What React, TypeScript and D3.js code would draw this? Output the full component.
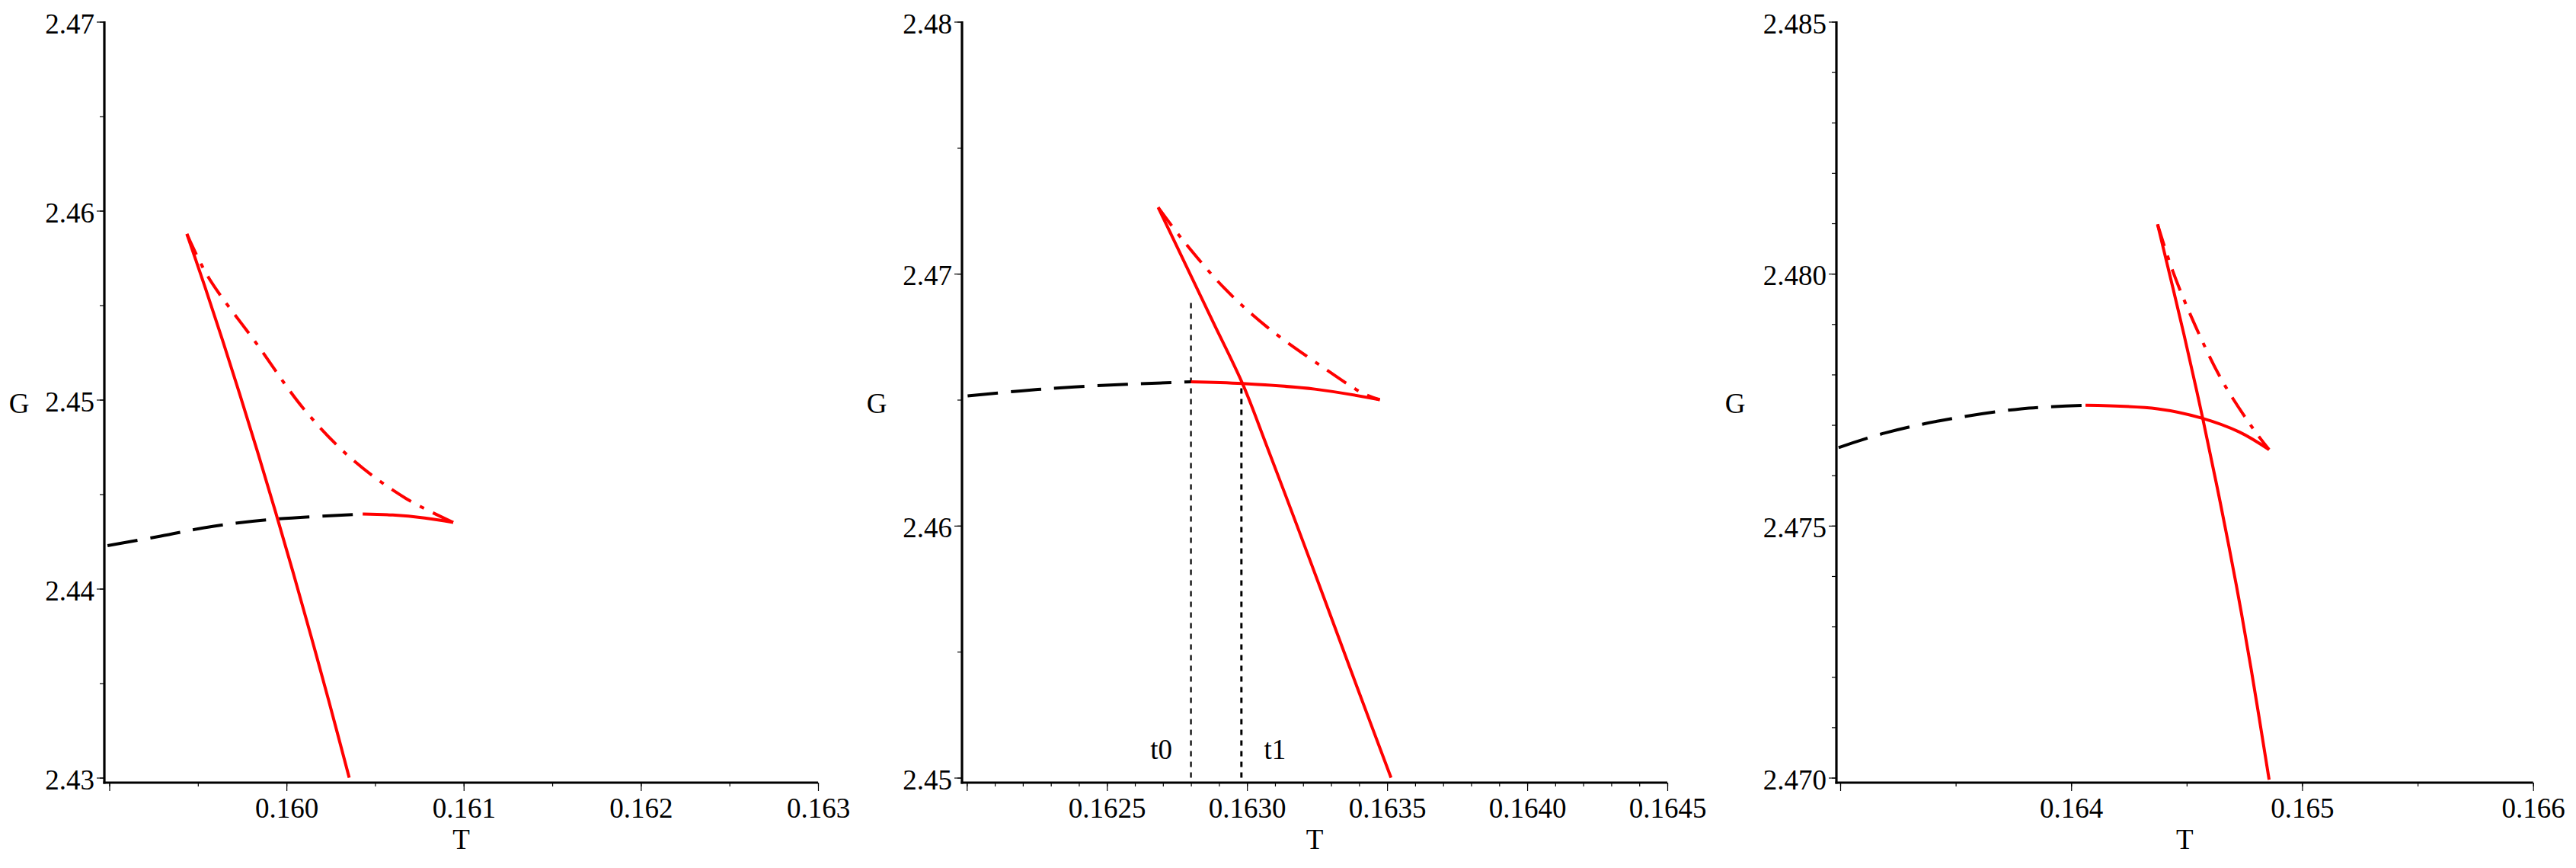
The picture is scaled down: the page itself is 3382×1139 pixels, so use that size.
import React, { useEffect, useRef } from 'react';
import * as d3 from 'd3';

const WIDTH = 3382;
const HEIGHT = 1139;
const FONT = "'Liberation Serif', 'Times New Roman', Times, serif";

// [T, G] pairs
const p1Black = [[0.15899, 2.44228], [0.15929, 2.44278], [0.15959, 2.44331], [0.15995, 2.44369], [0.16043, 2.44395]];
const p1RedFlat = [[0.16043, 2.44395], [0.1606, 2.4439], [0.16078, 2.44374], [0.160941, 2.44351]];
const p1DashDot = [[0.159438, 2.45877], [0.159559, 2.45648], [0.159831, 2.45297], [0.160103, 2.44945], [0.160374, 2.44682], [0.160675, 2.44477], [0.160941, 2.44351]];
const p1Solid = [[0.159438, 2.45877], [0.159538, 2.45602], [0.159638, 2.45318], [0.159738, 2.45024], [0.159838, 2.4472], [0.159938, 2.44407], [0.160038, 2.44084], [0.160138, 2.43751], [0.160238, 2.43409], [0.160354, 2.43]];

const p2Black = [[0.162003, 2.46515], [0.162193, 2.46535], [0.162384, 2.46551], [0.1628, 2.46571]];
const p2RedFlat = [[0.1628, 2.46571], [0.162984, 2.46564], [0.163242, 2.46542], [0.163474, 2.465]];
const p2DashDot = [[0.162683, 2.47263], [0.162765, 2.47142], [0.162918, 2.46944], [0.16307, 2.4679], [0.16326, 2.46637], [0.163413, 2.46526], [0.163474, 2.465]];
const p2Solid = [[0.162683, 2.47263], [0.16278, 2.47038], [0.16288, 2.46806], [0.162984, 2.46564], [0.16307, 2.46318], [0.163184, 2.45984], [0.16328, 2.45698], [0.163394, 2.45356], [0.163514, 2.45]];
const p2Marks = [
  { label: 't0', t: 0.1628, top: 2.469, width: 2.2 },
  { label: 't1', t: 0.16298, top: 2.46564, width: 3 },
];

const p3Black = [[0.162993, 2.47655], [0.163194, 2.47684], [0.163429, 2.47708], [0.163784, 2.47732], [0.164062, 2.47739]];
const p3RedFlat = [[0.164062, 2.47739], [0.164374, 2.47732], [0.164562, 2.47714], [0.164728, 2.47686], [0.164857, 2.47651]];
const p3DashDot = [[0.164374, 2.48098], [0.16444, 2.48005], [0.164539, 2.47895], [0.164657, 2.47785], [0.164798, 2.47686], [0.164857, 2.47651]];
const p3Solid = [[0.164374, 2.48098], [0.164489, 2.47878], [0.16457, 2.47712], [0.164645, 2.47547], [0.164715, 2.47382], [0.164779, 2.47216], [0.164857, 2.46996]];

// tick values
const p1XTicks = [0.159, 0.160, 0.161, 0.162, 0.163];
const p1YTicks = [2.43, 2.44, 2.45, 2.46, 2.47];
const p2XTicks = [0.162, 0.1625, 0.163, 0.1635, 0.164, 0.1645];
const p2YTicks = [2.45, 2.46, 2.47, 2.48];
const p3XTicks = [0.163, 0.164, 0.165, 0.166];
const p3YTicks = [2.470, 2.475, 2.480, 2.485];

const panels = [
  {
    axisX: 137, xStart: 143.5, xEnd: 1074, gX: 25,
    xDomain: [0.159, 0.163], yDomain: [2.43, 2.47],
    xTicks: p1XTicks, yTicks: p1YTicks, xMinorStep: 0.0005, yMinorStep: 0.005,
    xFmt: '.3f', yFmt: '.2f',
    black: p1Black, redFlat: p1RedFlat, dashDot: p1DashDot, solid: p1Solid, marks: [],
  },
  {
    axisX: 1263, xStart: 1269.3, xEnd: 2189, gX: 1151,
    xDomain: [0.162, 0.1645], yDomain: [2.45, 2.48],
    xTicks: p2XTicks, yTicks: p2YTicks, xMinorStep: 0.0001, yMinorStep: 0.005,
    xFmt: '.4f', yFmt: '.2f',
    black: p2Black, redFlat: p2RedFlat, dashDot: p2DashDot, solid: p2Solid, marks: p2Marks,
  },
  {
    axisX: 2411, xStart: 2416, xEnd: 3325.7, gX: 2278,
    xDomain: [0.163, 0.166], yDomain: [2.470, 2.485],
    xTicks: p3XTicks, yTicks: p3YTicks, xMinorStep: 0.0005, yMinorStep: 0.001,
    xFmt: '.3f', yFmt: '.3f',
    black: p3Black, redFlat: p3RedFlat, dashDot: p3DashDot, solid: p3Solid, marks: [],
  },
];

const Y_TOP = 28.5;
const Y_BOTTOM = 1020.5;
const X_AXIS_Y = 1027;

export default function App() {
  const ref = useRef(null);

  useEffect(() => {
    const svg = d3.select(ref.current);
    svg.selectAll('*').remove();

    const styleText = sel => sel
      .style('font-family', FONT)
      .style('font-size', '37px')
      .attr('fill', '#000');

    panels.forEach(p => {
      const x = d3.scaleLinear().domain(p.xDomain).range([p.xStart, p.xEnd]);
      const y = d3.scaleLinear().domain(p.yDomain).range([Y_BOTTOM, Y_TOP]);
      const g = svg.append('g');

      const minor = (dom, step) => d3.range(dom[0], dom[1] + step / 2, step);

      // minor ticks
      g.append('g')
        .attr('transform', `translate(0, ${X_AXIS_Y})`)
        .call(d3.axisBottom(x).tickValues(minor(p.xDomain, p.xMinorStep)).tickSize(5).tickSizeOuter(0).tickFormat(() => ''))
        .call(a => a.select('.domain').remove());
      g.append('g')
        .attr('transform', `translate(${p.axisX}, 0)`)
        .call(d3.axisLeft(y).tickValues(minor(p.yDomain, p.yMinorStep)).tickSize(6).tickSizeOuter(0).tickFormat(() => ''))
        .call(a => a.select('.domain').remove());

      // major ticks
      const firstX = p.xTicks[0];
      g.append('g')
        .attr('transform', `translate(0, ${X_AXIS_Y})`)
        .call(d3.axisBottom(x).tickValues(p.xTicks).tickSize(11).tickSizeOuter(0).tickPadding(9)
          .tickFormat(v => (v === firstX ? '' : d3.format(p.xFmt)(v))))
        .call(a => a.select('.domain').remove())
        .call(a => styleText(a.selectAll('text')));
      g.append('g')
        .attr('transform', `translate(${p.axisX}, 0)`)
        .call(d3.axisLeft(y).tickValues(p.yTicks).tickSize(10).tickSizeOuter(0).tickPadding(3)
          .tickFormat(d3.format(p.yFmt)))
        .call(a => a.select('.domain').remove())
        .call(a => styleText(a.selectAll('text')).attr('dy', '0.4em'));

      g.selectAll('.tick line').attr('stroke', '#000').attr('stroke-width', 1.2);

      // axis lines
      g.append('line')
        .attr('x1', p.axisX - 1.5).attr('x2', p.xEnd)
        .attr('y1', X_AXIS_Y).attr('y2', X_AXIS_Y)
        .attr('stroke', '#000').attr('stroke-width', 3.2);
      g.append('line')
        .attr('x1', p.axisX).attr('x2', p.axisX)
        .attr('y1', Y_TOP - 0.5).attr('y2', X_AXIS_Y + 1.5)
        .attr('stroke', '#000').attr('stroke-width', 3.2);

      // axis titles
      styleText(g.append('text'))
        .attr('x', (p.axisX + p.xEnd) / 2).attr('y', 1114)
        .attr('text-anchor', 'middle')
        .text('T');
      styleText(g.append('text'))
        .attr('x', p.gX).attr('y', 529)
        .attr('text-anchor', 'middle').attr('dy', '0.35em')
        .text('G');

      // marker lines t0, t1
      p.marks.forEach(m => {
        g.append('line')
          .attr('x1', x(m.t)).attr('x2', x(m.t))
          .attr('y1', y(p.yDomain[0])).attr('y2', y(m.top))
          .attr('stroke', '#000').attr('stroke-width', m.width)
          .attr('stroke-dasharray', '7 7');
        styleText(g.append('text'))
          .attr('x', x(m.t) + (m.label === 't0' ? -39 : 44)).attr('y', 996)
          .attr('text-anchor', 'middle')
          .text(m.label);
      });

      const line = d3.line()
        .x(d => x(d[0]))
        .y(d => y(d[1]))
        .curve(d3.curveCatmullRom.alpha(0.5));

      g.append('path').attr('d', line(p.black))
        .attr('fill', 'none').attr('stroke', '#000').attr('stroke-width', 4)
        .attr('stroke-dasharray', '40 17');
      g.append('path').attr('d', line(p.redFlat))
        .attr('fill', 'none').attr('stroke', '#ff0000').attr('stroke-width', 4);
      g.append('path').attr('d', line(p.dashDot))
        .attr('fill', 'none').attr('stroke', '#ff0000').attr('stroke-width', 4)
        .attr('stroke-dasharray', '30 13 6 13');
      g.append('path').attr('d', line(p.solid))
        .attr('fill', 'none').attr('stroke', '#ff0000').attr('stroke-width', 4);
    });
  }, []);

  return (
    <svg
      ref={ref}
      width={WIDTH}
      height={HEIGHT}
      viewBox={`0 0 ${WIDTH} ${HEIGHT}`}
      style={{ position: 'absolute', left: 0, top: 0, display: 'block', background: '#fff' }}
    />
  );
}
